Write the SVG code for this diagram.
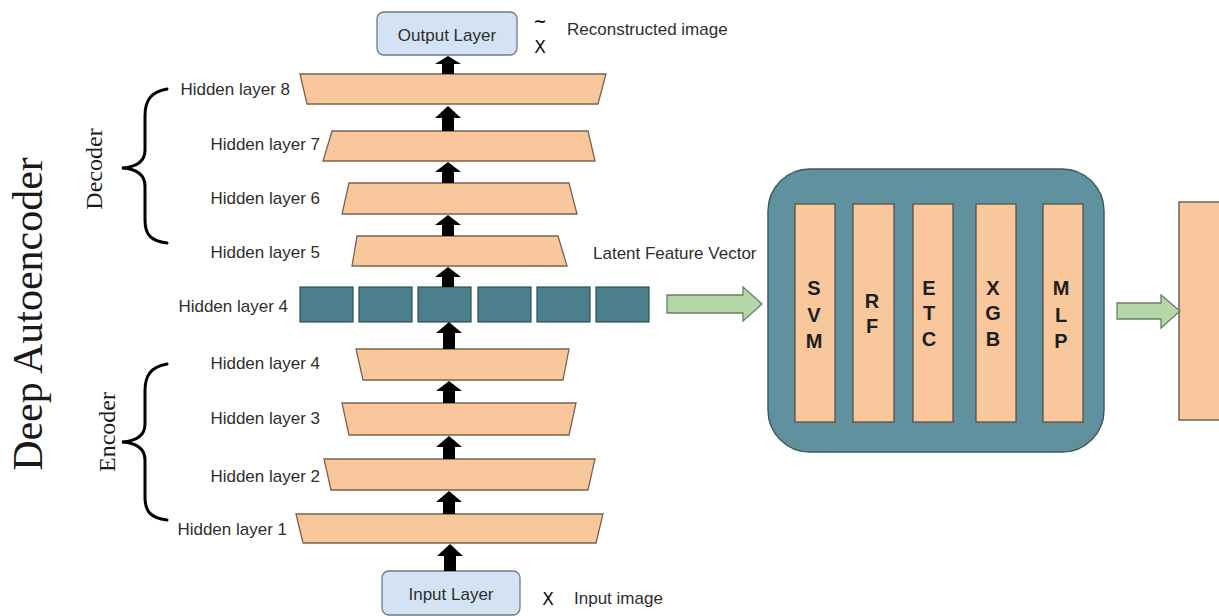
<svg xmlns="http://www.w3.org/2000/svg" width="1219" height="616" viewBox="0 0 1219 616">
<defs>
<style>
.trap{fill:#f8c79c;stroke:#7a6250;stroke-width:1.3}
.sq{fill:#4a7f8b;stroke:#2f4f56;stroke-width:1.2}
.io{fill:#d3e3f3;stroke:#6d7b88;stroke-width:1.3}
.lbl{font-family:"Liberation Sans",Arial,sans-serif;font-size:17px;fill:#2e2e2e}
.sym{font-family:"DejaVu Sans",sans-serif;fill:#111}
.ser{font-family:"Liberation Serif","Times New Roman",serif;fill:#1a1a1a}
.bar{fill:#f8c79c;stroke:#5a5048;stroke-width:1.3}
.clf{font-family:"Liberation Sans",Arial,sans-serif;font-size:20px;font-weight:bold;fill:#1e1e1e;text-anchor:middle}
.up{fill:#000}
.garrow{fill:#b6d7a8;stroke:#6b7f63;stroke-width:1.3}
.brace{fill:none;stroke:#000;stroke-width:3;stroke-linecap:round}
</style>
</defs>
<rect width="1219" height="616" fill="#ffffff"/>

<!-- title -->
<text class="ser" font-size="42" text-anchor="middle" transform="translate(42,314) rotate(-90)">Deep Autoencoder</text>
<text class="ser" font-size="24" text-anchor="middle" transform="translate(102,169) rotate(-90)">Decoder</text>
<text class="ser" font-size="24" text-anchor="middle" transform="translate(115,432) rotate(-90)">Encoder</text>
<path class="brace" d="M167,89 C151,92 145,100 145,116 L145,150 C145,162 136,167 122,168 C136,169 145,174 145,186 L145,220 C145,235 151,241 167,243"/>
<path class="brace" d="M167,364 C151,367 145,375 145,391 L145,424 C145,436 136,441 122,442 C136,443 145,448 145,460 L145,497 C145,512 151,518 167,520"/>

<g id="output-layer">
<rect class="io" x="377" y="12" width="140" height="43" rx="7"/>
<text class="lbl" x="447" y="41" text-anchor="middle">Output Layer</text>
<text class="sym" x="540" y="27" font-size="16" font-weight="bold" text-anchor="middle">~</text>
<text class="sym" x="540" y="53" font-size="17" text-anchor="middle">X</text>
<text class="lbl" x="567" y="35">Reconstructed image</text>
</g>

<g id="hidden8"><polygon class="trap" points="300,74 606,74 598,104 307,104"/><text class="lbl" x="290" y="95" text-anchor="end">Hidden layer 8</text></g>
<g id="hidden7"><polygon class="trap" points="332,131 588,131 595,161 323,161"/><text class="lbl" x="320" y="150" text-anchor="end">Hidden layer 7</text></g>
<g id="hidden6"><polygon class="trap" points="349,183 569,183 577,214 342,214"/><text class="lbl" x="320" y="204" text-anchor="end">Hidden layer 6</text></g>
<g id="hidden5"><polygon class="trap" points="357,236 558,236 567,266 352,266"/><text class="lbl" x="320" y="258" text-anchor="end">Hidden layer 5</text></g>

<g id="latent">
<rect class="sq" x="300" y="287" width="53" height="35"/>
<rect class="sq" x="359" y="287" width="53" height="35"/>
<rect class="sq" x="418" y="287" width="53" height="35"/>
<rect class="sq" x="478" y="287" width="53" height="35"/>
<rect class="sq" x="537" y="287" width="53" height="35"/>
<rect class="sq" x="596" y="287" width="53" height="35"/>
<text class="lbl" x="288" y="312" text-anchor="end">Hidden layer 4</text>
<text class="lbl" x="593" y="259">Latent Feature Vector</text>
</g>

<g id="enc4"><polygon class="trap" points="356,349 569,349 563,380 363,380"/><text class="lbl" x="320" y="369" text-anchor="end">Hidden layer 4</text></g>
<g id="enc3"><polygon class="trap" points="342,403 576,403 569,435 349,435"/><text class="lbl" x="320" y="424" text-anchor="end">Hidden layer 3</text></g>
<g id="enc2"><polygon class="trap" points="324,459 595,459 588,490 331,490"/><text class="lbl" x="320" y="482" text-anchor="end">Hidden layer 2</text></g>
<g id="enc1"><polygon class="trap" points="296,514 603,514 596,543 303,543"/><text class="lbl" x="287" y="535" text-anchor="end">Hidden layer 1</text></g>

<g id="input-layer">
<rect class="io" x="382" y="571" width="138" height="44" rx="7"/>
<text class="lbl" x="451" y="600" text-anchor="middle">Input Layer</text>
<text class="sym" x="548" y="605" font-size="17" text-anchor="middle">X</text>
<text class="lbl" x="574" y="604">Input image</text>
</g>

<g id="classifiers">
<rect x="768" y="169" width="336" height="283" rx="42" fill="#5f929e" stroke="#3d5a60" stroke-width="1.5"/>
<rect class="bar" x="795" y="204" width="40" height="218"/>
<rect class="bar" x="853" y="204" width="41" height="218"/>
<rect class="bar" x="913" y="204" width="40" height="218"/>
<rect class="bar" x="976" y="204" width="40" height="218"/>
<rect class="bar" x="1043" y="204" width="40" height="218"/>
<text class="clf" x="814" y="295">S</text><text class="clf" x="814" y="322">V</text><text class="clf" x="814" y="348">M</text>
<text class="clf" x="872" y="308">R</text><text class="clf" x="872" y="333">F</text>
<text class="clf" x="929" y="295">E</text><text class="clf" x="929" y="320">T</text><text class="clf" x="929" y="346">C</text>
<text class="clf" x="993" y="295">X</text><text class="clf" x="993" y="320">G</text><text class="clf" x="993" y="346">B</text>
<text class="clf" x="1061" y="295">M</text><text class="clf" x="1061" y="322">L</text><text class="clf" x="1061" y="348">P</text>
</g>

<g id="output-bar">
<rect class="bar" x="1179" y="202" width="60" height="218"/>
</g>

<g id="connectors">
<polygon class="up" points="448,56 461,64 454,64 454,74 442,74 442,64 435,64"/>
<polygon class="up" points="448,106 461,118 454,118 454,131 442,131 442,118 435,118"/>
<polygon class="up" points="448,162 461,172 454,172 454,183 442,183 442,172 435,172"/>
<polygon class="up" points="448,215 461,225 454,225 454,236 442,236 442,225 435,225"/>
<polygon class="up" points="448,267 461,277 454,277 454,287 442,287 442,277 435,277"/>
<polygon class="up" points="449,322 462,333 455,333 455,349 443,349 443,333 436,333"/>
<polygon class="up" points="449,381 462,391 455,391 455,403 443,403 443,391 436,391"/>
<polygon class="up" points="449,436 462,447 455,447 455,459 443,459 443,447 436,447"/>
<polygon class="up" points="449,491 462,502 455,502 455,514 443,514 443,502 436,502"/>
<polygon class="up" points="450,544 463,556 456,556 456,571 444,571 444,556 437,556"/>
<polygon class="garrow" points="667,295 743,295 743,287 762,304 743,321 743,313 667,313"/>
<polygon class="garrow" points="1117,303 1161,303 1161,295 1180,311 1161,328 1161,319 1117,319"/>
</g>
</svg>
